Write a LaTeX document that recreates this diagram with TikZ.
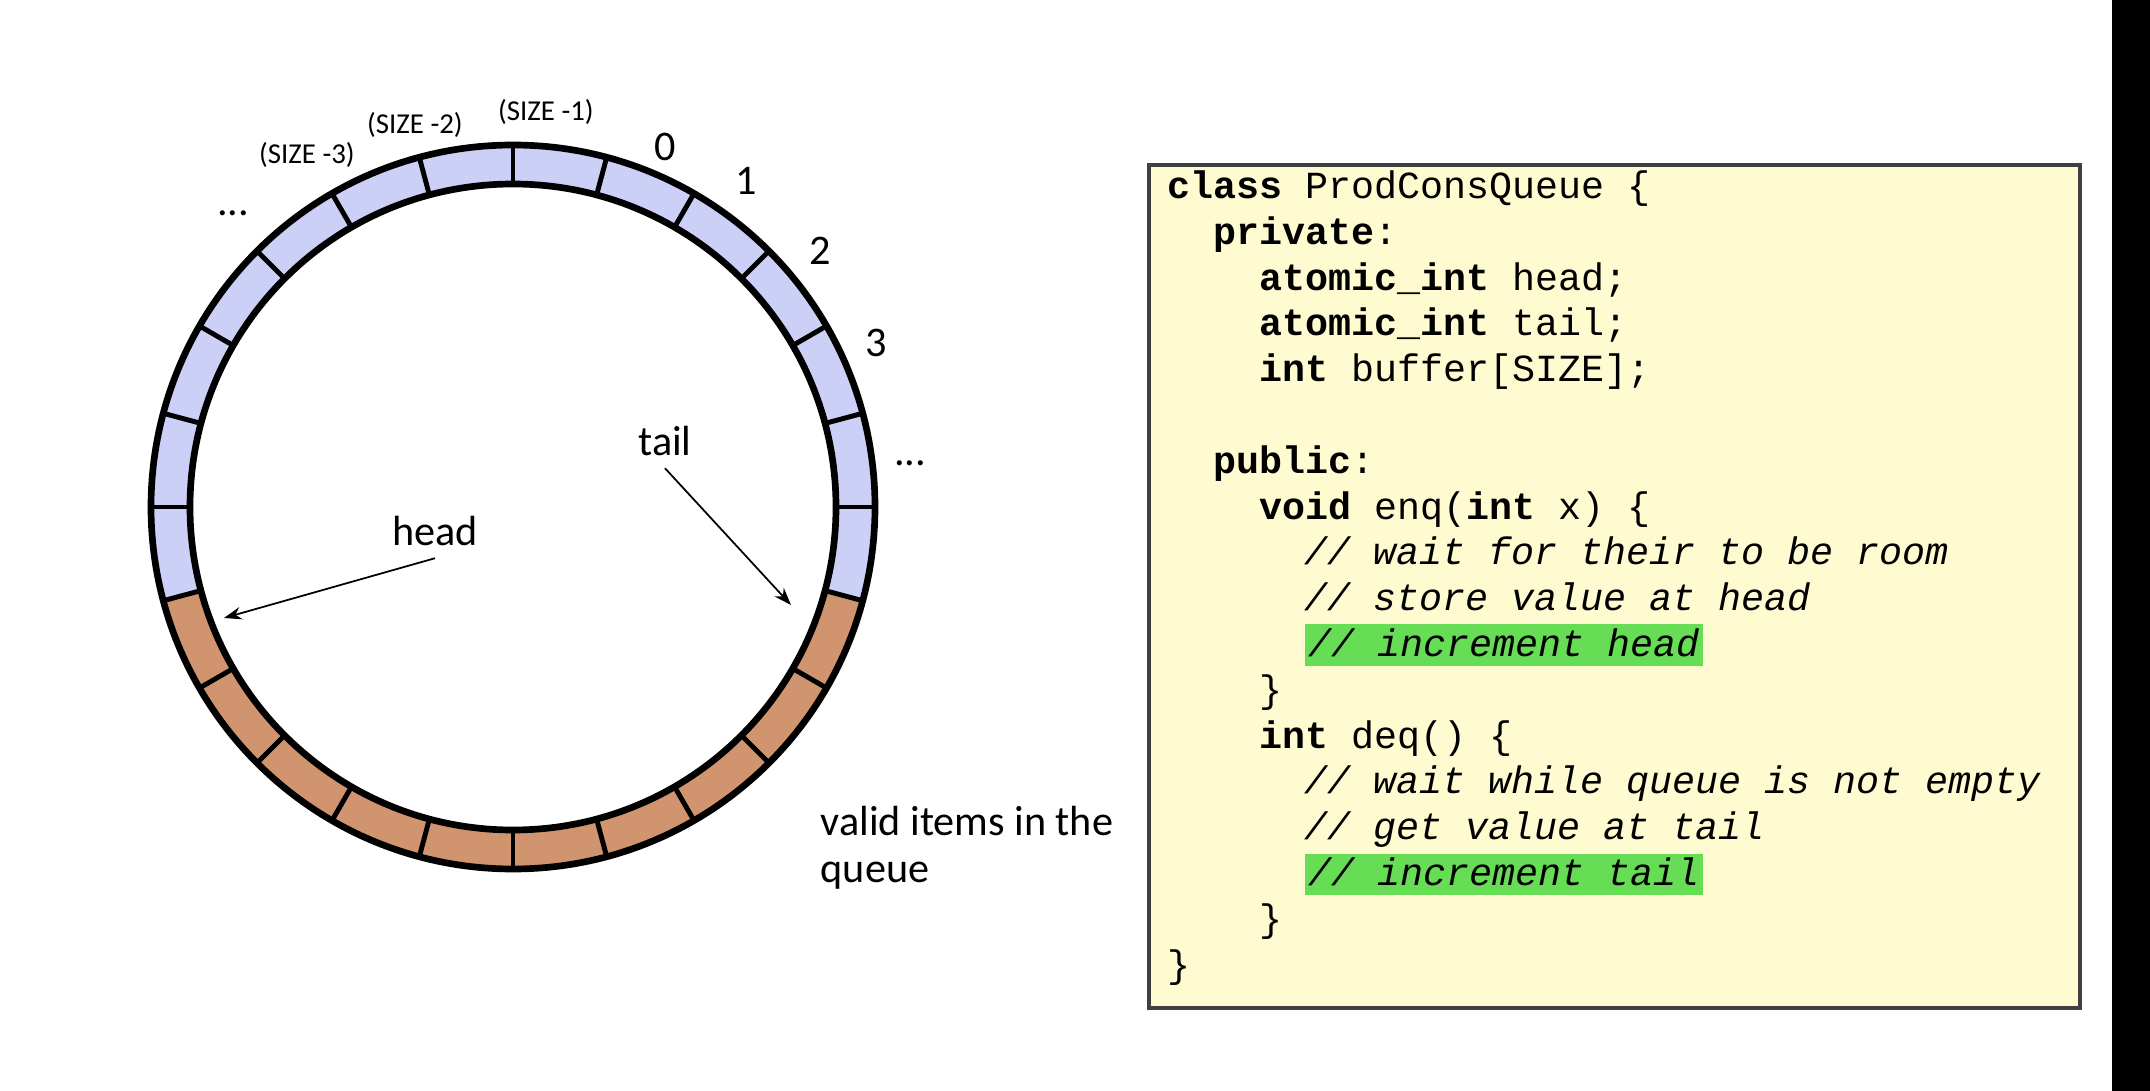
\documentclass[tikz,border=0pt]{standalone}
\usepackage{fontspec}
\setmainfont{Carlito}
\setmonofont{Liberation Mono}
\usetikzlibrary{arrows.meta}
\definecolor{slotblue}{RGB}{204,208,246}
\definecolor{slotfull}{RGB}{208,148,110}
\definecolor{codebg}{RGB}{255,251,208}
\definecolor{codehl}{RGB}{102,221,85}

\begin{document}
\begin{tikzpicture}[x=0.01cm,y=-0.01cm,>={Stealth[length=5pt,width=3.6pt]},
        lbl/.style={font=\fontsize{12}{13.4}\selectfont},
        idx/.style={font=\fontsize{8.2}{9.8}\selectfont},
        code/.style={anchor=base west,inner sep=0pt,font=\fontsize{10.9}{13}\selectfont\ttfamily},
        hl/.style={code,fill=codehl,text height=9.1pt,text depth=2.8pt,inner xsep=1pt}]
        \path[use as bounding box,fill=white] (0,0) rectangle (2150,1091);
        % ring buffer
        \begin{scope}[shift={(513,507)},yscale=-1]
            \fill[slotblue,even odd rule] (0,0) circle[radius=362] circle[radius=323];
            \fill[slotfull] (195:323) -- (195:362) arc[start angle=195,end angle=345,radius=362]
                -- (345:323) arc[start angle=345,end angle=195,radius=323] -- cycle;
            \foreach \a in {0,15,...,345}
                \draw[line width=1.4pt] (\a:323) -- (\a:362);
            \draw[line width=1.9pt] (0,0) circle[radius=362] (0,0) circle[radius=323];
        \end{scope}
        \node[idx] (sz1) at (546,112) {(SIZE -1)};
        \node[idx] (sz2) at (415,125) {(SIZE -2)};
        \node[idx] (sz3) at (307,155) {(SIZE -3)};
        \node[lbl] (dl) at (233,213) {...};
        \node[lbl] (n0) at (665,147) {0};
        \node[lbl] (n1) at (746,181) {1};
        \node[lbl] (n2) at (820,251) {2};
        \node[lbl] (n3) at (876,343) {3};
        \node[lbl] (dr) at (910,463) {...};
        \node[lbl] (tlbl) at (665,441) {tail};
        \node[lbl] (hlbl) at (435,531) {head};
        \coordinate (tailpos) at (791,605);
        \coordinate (headpos) at (224,618);
        \draw[->,line width=0.5pt] (tlbl.south) -- (tailpos);
        \draw[->,line width=0.5pt] (hlbl.south) -- (headpos);
        \node[lbl,align=left,anchor=west,inner sep=0pt] (valid) at (820,848) {valid items in the\\queue};
        % code
        \draw[fill=codebg,draw=black!75,line width=1pt] (1149,165) rectangle (2080,1008);
        \node[code] (c1) at (1167,198.5) {\textbf{class} ProdConsQueue \{};
        \node[code] (c2) at (1213,244.3) {\textbf{private}:};
        \node[code] (c3) at (1259,290.1) {\textbf{atomic\_int} head;};
        \node[code] (c4) at (1259,335.9) {\textbf{atomic\_int} tail;};
        \node[code] (c5) at (1259,381.7) {\textbf{int} buffer[SIZE];};
        \node[code] (c7) at (1213,473.3) {\textbf{public}:};
        \node[code] (c8) at (1259,519.1) {\textbf{void} enq(\textbf{int} x) \{};
        \node[code] (c9) at (1304,564.9) {\textit{// wait for their to be room}};
        \node[code] (c10) at (1304,610.7) {\textit{// store value at head}};
        \node[hl] (c11) at (1304,656.5) {\textit{// increment head}};
        \node[code] (c12) at (1259,702.3) {\}};
        \node[code] (c13) at (1259,748.1) {\textbf{int} deq() \{};
        \node[code] (c14) at (1304,793.9) {\textit{// wait while queue is not empty}};
        \node[code] (c15) at (1304,839.7) {\textit{// get value at tail}};
        \node[hl] (c16) at (1304,885.5) {\textit{// increment tail}};
        \node[code] (c17) at (1259,931.3) {\}};
        \node[code] (c18) at (1167,977.1) {\}};
        \fill[black] (2112,0) rectangle (2150,1091);
    \end{tikzpicture}
\end{document}
